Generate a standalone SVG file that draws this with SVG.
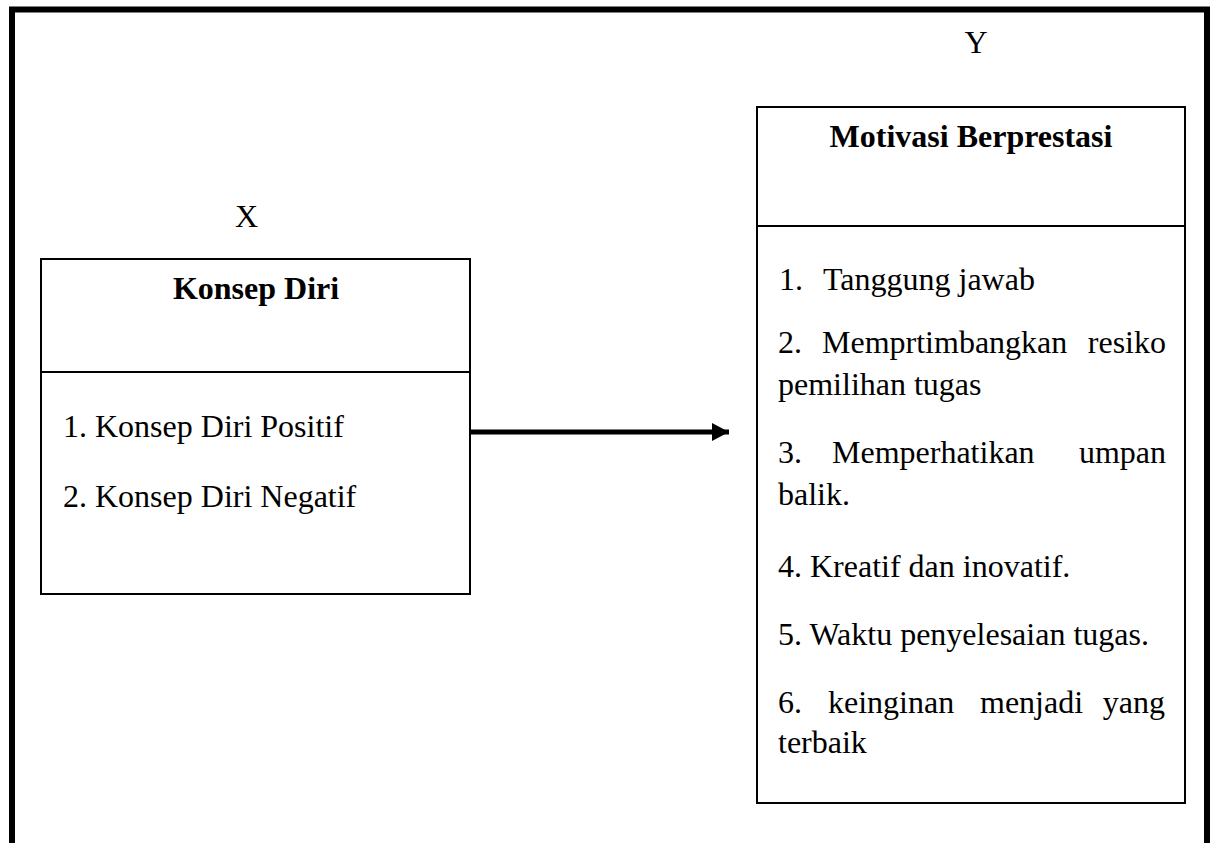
<svg xmlns="http://www.w3.org/2000/svg" width="1216" height="843" viewBox="0 0 1216 843">
<style>
text{font-family:'Liberation Serif','Times New Roman','DejaVu Serif',serif;font-size:32px;fill:#000}
.b{font-weight:bold;text-anchor:middle}
.e{text-anchor:end}
.box{fill:none;stroke:#000;stroke-width:2}
</style>
<defs>
<marker id="ah" markerWidth="17" markerHeight="18" refX="17" refY="9" orient="auto" markerUnits="userSpaceOnUse">
<path d="M0,0 L17,9 L0,18 Z" fill="#000"/>
</marker>
</defs>
<rect x="0" y="0" width="1216" height="843" fill="#fff"/>
<g id="frame">
<path d="M12,850 L12,9.5 L1207,9.5 L1207,850" fill="none" stroke="#000" stroke-width="6"/>
</g>
<g id="label-x"><text x="246.5" y="227" text-anchor="middle">X</text></g>
<g id="label-y"><text x="976" y="53" text-anchor="middle">Y</text></g>
<g id="node-konsep-diri">
<rect class="box" x="41" y="259" width="429" height="335"/>
<line class="box" x1="41" y1="372" x2="470" y2="372"/>
<text class="b" x="256" y="299">Konsep Diri</text>
<text x="63" y="437">1. Konsep Diri Positif</text>
<text x="63" y="507">2. Konsep Diri Negatif</text>
</g>
<g id="node-motivasi">
<rect class="box" x="757" y="107" width="428" height="696"/>
<line class="box" x1="757" y1="226" x2="1185" y2="226"/>
<text class="b" x="971" y="147">Motivasi Berprestasi</text>
<text y="290"><tspan x="779">1.</tspan><tspan x="823">Tanggung jawab</tspan></text>
<text y="353"><tspan x="778">2.</tspan><tspan x="822">Memprtimbangkan</tspan></text>
<text class="e" x="1166" y="353">resiko</text>
<text x="778" y="395">pemilihan tugas</text>
<text y="463"><tspan x="778">3.</tspan><tspan x="832">Memperhatikan</tspan></text>
<text class="e" x="1166" y="463">umpan</text>
<text x="778" y="505">balik.</text>
<text x="778" y="577">4. Kreatif dan inovatif.</text>
<text x="778" y="645">5. Waktu penyelesaian tugas.</text>
<text y="713"><tspan x="778">6.</tspan><tspan x="828">keinginan</tspan><tspan x="980">menjadi</tspan></text>
<text class="e" x="1165" y="713">yang</text>
<text x="778" y="753">terbaik</text>
</g>
<g id="connectors">
<line x1="470" y1="432" x2="729" y2="432" stroke="#000" stroke-width="5" marker-end="url(#ah)"/>
</g>
</svg>
